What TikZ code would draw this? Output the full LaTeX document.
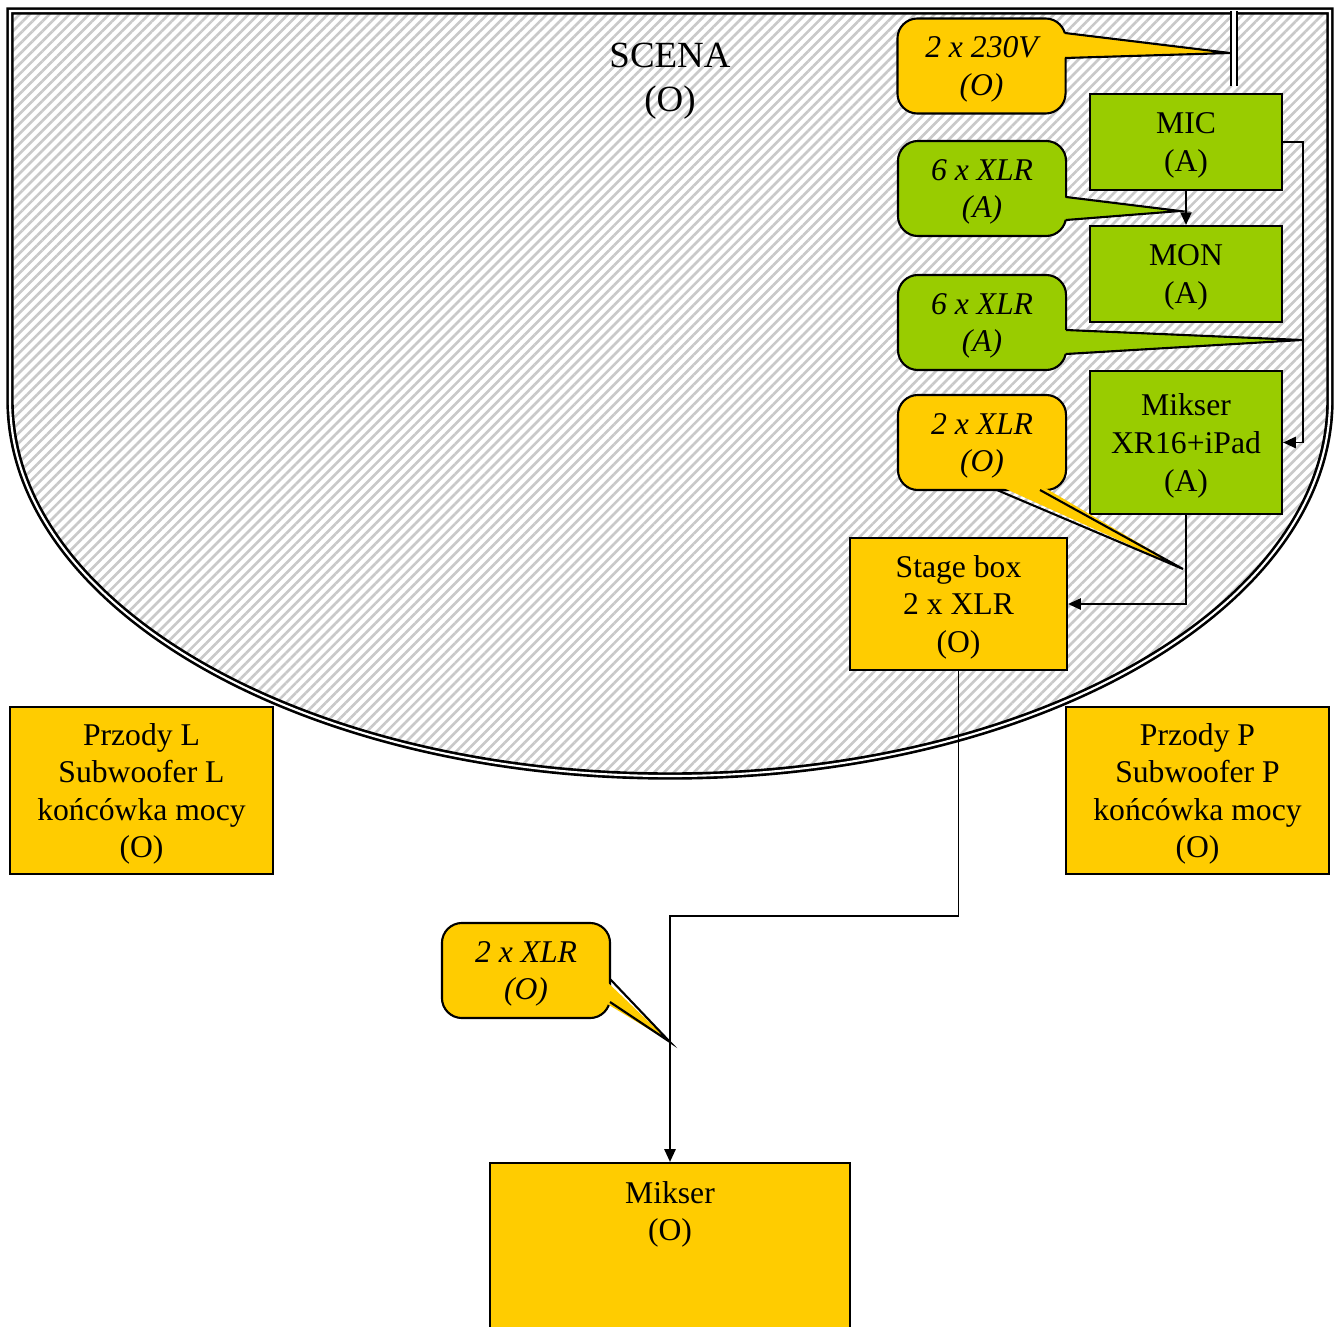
\documentclass[tikz,border=0pt]{standalone}
\usepackage{fontspec}
\setmainfont{Liberation Serif}
\usetikzlibrary{arrows.meta,patterns.meta}
\definecolor{orangeO}{HTML}{FFCC00}
\definecolor{greenA}{HTML}{99CC00}

\begin{document}
\begin{tikzpicture}[x=0.01cm,y=-0.01cm,font=\fontsize{9}{10.7}\selectfont,
    box/.style={draw,line width=0.6pt,align=center,inner sep=0pt,text depth=-0.9pt},
    boxO/.style={box,fill=orangeO},
    boxA/.style={box,fill=greenA},
    bubble/.style={box,rounded corners=0.2cm,minimum width=1.68cm,minimum height=0.95cm,
        font=\fontsize{9}{10.7}\selectfont\itshape},
    tail/.style={line width=0.6pt,line join=miter},
    link/.style={line width=0.45pt,-{Triangle[length=3.6pt,width=3.2pt]}}]

    \useasboundingbox (0,0) rectangle (1339,1327);

    % scena
    \draw[double,line width=0.55pt,double distance=0.6pt,
          pattern={Lines[angle=45,distance=2pt,line width=0.75pt]},pattern color=gray!42]
        (10,400) -- (10,11) -- (1330,11) -- (1330,400)
        arc[start angle=0,end angle=180,x radius=660,y radius=376] -- cycle;
    \node[font=\fontsize{10.5}{12.4}\selectfont,align=center] (scena) at (670,81.5) {SCENA\\(O)};

    % zasilanie
    \draw[double,line width=0.45pt,double distance=1.3pt] (1234,11) -- (1234,86);

    % urzadzenia
    \node[boxA,minimum width=1.92cm,minimum height=0.96cm] (mic) at (1186,142) {MIC\\(A)};
    \node[boxA,minimum width=1.92cm,minimum height=0.96cm] (mon) at (1186,274) {MON\\(A)};
    \node[boxA,minimum width=1.92cm,minimum height=1.43cm] (xr) at (1186,442.5) {Mikser\\XR16+iPad\\(A)};
    \node[boxO,minimum width=2.17cm,minimum height=1.32cm] (stagebox) at (958.5,604) {Stage box\\2 x XLR\\(O)};
    \node[boxO,minimum width=2.63cm,minimum height=1.67cm] (frontL) at (141.5,790.5) {Przody L\\Subwoofer L\\końcówka mocy\\(O)};
    \node[boxO,minimum width=2.63cm,minimum height=1.67cm] (frontP) at (1197.5,790.5) {Przody P\\Subwoofer P\\końcówka mocy\\(O)};
    \node[boxO,minimum width=3.6cm,minimum height=1.9cm] (mikser) at (670,1258) {};
    \node[align=center,anchor=north] (mikserlbl) at ([yshift=-0.07cm]mikser.north) {Mikser\\(O)};

    % polaczenia
    \draw[link] (mic) -- (mon);
    \draw[link] (mic.east) -- ++(20,0) |- (xr.east);
    \draw[link] (xr.south) |- (stagebox.east);
    \coordinate (drop) at (670,916);
    \draw[link] (stagebox.south) |- (drop) -- (mikser.north);

    % opisy kabli
    \node[bubble,fill=orangeO] (pwr) at (981.5,66) {2 x 230V\\(O)};
    \coordinate (pwrtip) at (1230,53);
    \fill[orangeO] (1060,33) -- (pwrtip) -- (1060,58) -- cycle;
    \draw[tail] (1065,33) -- (pwrtip) -- (1065,58);

    \node[bubble,fill=greenA] (xlrmic) at (982,188.5) {6 x XLR\\(A)};
    \coordinate (xlrmictip) at (1180,211);
    \fill[greenA] (1060,197) -- (xlrmictip) -- (1060,220) -- cycle;
    \draw[tail] (1066,197) -- (xlrmictip) -- (1066,220);

    \node[bubble,fill=greenA] (xlrmon) at (982,322.5) {6 x XLR\\(A)};
    \coordinate (xlrmontip) at (1302,340);
    \fill[greenA] (1060,330) -- (xlrmontip) -- (1060,354) -- cycle;
    \draw[tail] (1066,330) -- (xlrmontip) -- (1066,354);

    \node[bubble,fill=orangeO] (xlrbox) at (982,442.5) {2 x XLR\\(O)};
    \coordinate (xlrboxtip) at (1183,569);
    \fill[orangeO] (997,485) -- (xlrboxtip) -- (1040,485) -- cycle;
    \draw[tail] (997,490) -- (xlrboxtip) -- (1040,490);

    \node[bubble,fill=orangeO] (xlrfoh) at (526,970.5) {2 x XLR\\(O)};
    \coordinate (xlrfohtip) at (670,1042);
    \fill[orangeO] (604,979) -- (xlrfohtip) -- (604,1002) -- cycle;
    \draw[tail] (610,979) -- (xlrfohtip) -- (610,1002);
\end{tikzpicture}
\end{document}
